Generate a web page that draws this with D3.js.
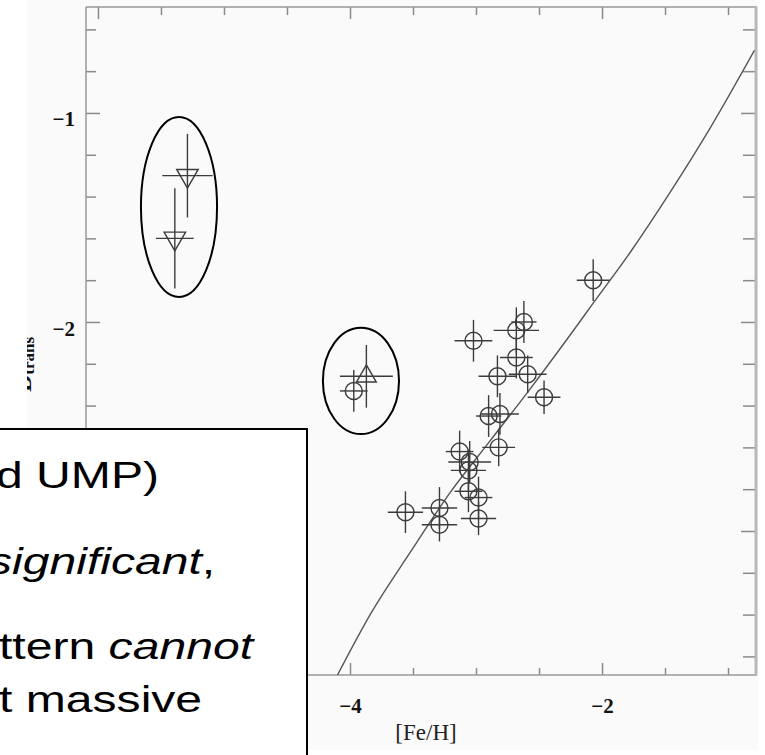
<!DOCTYPE html>
<html>
<head>
<meta charset="utf-8">
<script src="https://cdn.jsdelivr.net/npm/d3@7/dist/d3.min.js"></script>
<style>
  html, body { margin: 0; padding: 0; background: #fff; }
  svg { display: block; }
</style>
</head>
<body>
<svg id="chart" width="765" height="755"></svg>
<script>
// D_trans vs [Fe/H] — stars with error bars, model curve, two circled outlier groups,
// partly covered by a slide text box
// ------------------------------------------------------------------

// Data: circles -----------------------------------------------------
const circFeH  = [-2.07, -2.62, -2.68, -3.02, -2.68, -2.83, -2.59, -2.46, -2.90, -2.81, -2.82,
                  -3.13, -3.05, -3.06, -3.06, -2.98, -2.98, -3.56, -3.29, -3.29, -3.97];
const circD    = [-1.80, -2.00, -2.04, -2.09, -2.17, -2.26, -2.25, -2.36, -2.45, -2.44, -2.60,
                  -2.62, -2.67, -2.71, -2.81, -2.84, -2.94, -2.91, -2.89, -2.97, -2.33];
const circFeErr = [0.13, 0.10, 0.18, 0.15, 0.13, 0.15, 0.15, 0.13, 0.10, 0.15, 0.13,
                   0.11, 0.17, 0.14, 0.11, 0.11, 0.14, 0.14, 0.14, 0.14, 0.11];
const circDErr  = [0.10, 0.10, 0.11, 0.10, 0.10, 0.10, 0.09, 0.08, 0.10, 0.10, 0.09,
                   0.10, 0.10, 0.10, 0.10, 0.10, 0.08, 0.10, 0.10, 0.08, 0.10];

// Data: down triangles ----------------------------------------------
const downFeH   = [-5.29, -5.39];
const downD     = [-1.30, -1.60];
const downFeErr = [0.20, 0.15];
const downDErr  = [0.20, 0.24];

// Data: up triangle ------------------------------------------------
const upFeH   = [-3.87];
const upD     = [-2.26];
const upFeErr = [0.21];
const upDErr  = [0.15];

// Model curve ------------------------------------------------------
const curveFeH = [-4.10, -3.84, -3.52, -3.21, -2.89, -2.57, -2.25, -2.07, -1.78, -1.46, -1.14, -0.79];
const curveD   = [-3.69, -3.40, -3.10, -2.82, -2.57, -2.32, -2.06, -1.91, -1.67, -1.38, -1.07, -0.70];

// Circled groups (data units) --------------------------------------
const ringFeH = [-5.357, -3.913];
const ringD   = [-1.45, -2.282];
const ringRFe = [0.302, 0.302];
const ringRD  = [0.431, 0.254];

// Axes -------------------------------------------------------------
const xDomain = [-6.095, -0.786];
const yDomain = [-3.689, -0.493];
const xMajor  = [-6, -4, -2];
const yMajor  = [-3, -2, -1];
const xTickLabels = [-4, -2];        // the others sit under the text box
const yTickLabels = [-2, -1];
const xMinor  = d3.range(-6, -0.79, 0.5);
const yMinor  = d3.range(-3.6, -0.5, 0.2);
const xLabel  = "[Fe/H]";
const yLabelMain = "D", yLabelSub = "trans";

// Slide text (visible part) ----------------------------------------
const boxLines = [
  [{ t: "d UMP)" }],
  [{ t: "significant", i: true }, { t: "," }],
  [{ t: "ttern " }, { t: "cannot", i: true }],
  [{ t: "t massive" }]
];

// Layout -----------------------------------------------------------
const frame = { left: 86, right: 755, top: 7, bottom: 675 };
const svg = d3.select("#chart");

const x = d3.scaleLinear().domain(xDomain).range([frame.left, frame.right]);
const y = d3.scaleLinear().domain(yDomain).range([frame.bottom, frame.top]);

// figure image area (off-white), clipped
const defs = svg.append("defs");
defs.append("clipPath").attr("id", "figclip")
  .append("rect").attr("x", 27).attr("y", 0).attr("width", 731).attr("height", 750);
defs.append("clipPath").attr("id", "plotclip")
  .append("rect").attr("x", frame.left).attr("y", frame.top)
  .attr("width", frame.right - frame.left).attr("height", frame.bottom - frame.top);

const fig = svg.append("g").attr("clip-path", "url(#figclip)");
fig.append("rect").attr("x", 27).attr("y", 0).attr("width", 731).attr("height", 750)
  .attr("fill", "#fafafa");

// Axes -------------------------------------------------------------
const tickCol = "#8a8a8a";
const fontSerif = "'Liberation Serif', 'DejaVu Serif', serif";

function styleAxis(g) {
  g.select(".domain").remove();
  g.selectAll("line").attr("stroke", tickCol).attr("stroke-width", 1.5);
  g.selectAll("text").attr("fill", "#111").attr("font-family", fontSerif)
    .attr("font-weight", "bold").attr("font-size", 21);
}

const minorX = xMinor.filter(v => !xMajor.includes(v));
const minorY = yMinor.filter(v => !yMajor.some(t => Math.abs(t - v) < 1e-6));

// bottom
fig.append("g").attr("transform", `translate(0,${frame.bottom})`)
  .call(d3.axisBottom(x).tickValues(minorX).tickSize(-7).tickFormat(""))
  .call(styleAxis);
fig.append("g").attr("transform", `translate(0,${frame.bottom})`)
  .call(d3.axisBottom(x).tickValues(xMajor).tickSize(-12).tickFormat(""))
  .call(styleAxis);
fig.append("g").attr("transform", `translate(0,${frame.bottom})`)
  .call(d3.axisBottom(x).tickValues(xTickLabels).tickSize(0).tickPadding(23).tickFormat(d3.format("d")))
  .call(styleAxis);
// top
fig.append("g").attr("transform", `translate(0,${frame.top})`)
  .call(d3.axisTop(x).tickValues(minorX).tickSize(-8).tickFormat(""))
  .call(styleAxis);
fig.append("g").attr("transform", `translate(0,${frame.top})`)
  .call(d3.axisTop(x).tickValues(xMajor).tickSize(-12).tickFormat(""))
  .call(styleAxis);
// left
fig.append("g").attr("transform", `translate(${frame.left},0)`)
  .call(d3.axisLeft(y).tickValues(minorY).tickSize(-10).tickFormat(""))
  .call(styleAxis);
fig.append("g").attr("transform", `translate(${frame.left},0)`)
  .call(d3.axisLeft(y).tickValues(yMajor).tickSize(-14).tickFormat(""))
  .call(styleAxis);
const yLab = fig.append("g").attr("transform", `translate(${frame.left},0)`)
  .call(d3.axisLeft(y).tickValues(yTickLabels).tickSize(0).tickPadding(11).tickFormat(d3.format("d")))
  .call(styleAxis);
yLab.selectAll("text").attr("dy", "0.62em");
// right
fig.append("g").attr("transform", `translate(${frame.right},0)`)
  .call(d3.axisRight(y).tickValues(minorY).tickSize(-12).tickFormat(""))
  .call(styleAxis);
fig.append("g").attr("transform", `translate(${frame.right},0)`)
  .call(d3.axisRight(y).tickValues(yMajor).tickSize(-14).tickFormat(""))
  .call(styleAxis);

// frame lines
const frameG = fig.append("g").attr("stroke", "#999").attr("stroke-width", 1.5);
frameG.append("line").attr("x1", frame.left).attr("x2", frame.right + 2)
  .attr("y1", frame.top).attr("y2", frame.top);
frameG.append("line").attr("x1", frame.left).attr("x2", frame.right + 2)
  .attr("y1", frame.bottom).attr("y2", frame.bottom);
frameG.append("line").attr("x1", frame.left).attr("x2", frame.left)
  .attr("y1", frame.top).attr("y2", frame.bottom);
fig.append("line").attr("x1", frame.right + 1).attr("x2", frame.right + 1)
  .attr("y1", frame.top).attr("y2", frame.bottom).attr("stroke", "#b8b8b8").attr("stroke-width", 3);

// axis titles
fig.append("text")
  .attr("x", 426).attr("y", 740)
  .attr("text-anchor", "middle")
  .attr("font-family", fontSerif).attr("font-size", 23).attr("fill", "#222")
  .text(xLabel);

const yl = fig.append("text")
  .attr("transform", "translate(31,392) rotate(-90)")
  .attr("font-family", fontSerif).attr("font-weight", "bold").attr("font-size", 24).attr("fill", "#111");
yl.append("tspan").text(yLabelMain);
yl.append("tspan").attr("font-size", 17).attr("dy", 3).text(yLabelSub);

// Plot contents ----------------------------------------------------
const pg = fig.append("g").attr("clip-path", "url(#plotclip)");
const markCol = "#3c3c3c";

// model curve
const curvePts = curveFeH.map((v, i) => [v, curveD[i]]);
pg.append("path")
  .datum(curvePts)
  .attr("fill", "none").attr("stroke", "#555").attr("stroke-width", 1.4)
  .attr("d", d3.line().x(d => x(d[0])).y(d => y(d[1])).curve(d3.curveMonotoneX));

function rows(fe, d, fe_e, d_e) {
  return fe.map((v, i) => ({ fe: v, d: d[i], fe_e: fe_e[i], d_e: d_e[i] }));
}
const circles = rows(circFeH, circD, circFeErr, circDErr);
const downs   = rows(downFeH, downD, downFeErr, downDErr);
const ups     = rows(upFeH, upD, upFeErr, upDErr);
const allPts  = circles.concat(downs, ups);

// error bars
const eb = pg.append("g").attr("stroke", markCol).attr("stroke-width", 1.4);
eb.selectAll("line.ex").data(allPts).join("line").attr("class", "ex")
  .attr("x1", d => x(d.fe - d.fe_e)).attr("x2", d => x(d.fe + d.fe_e))
  .attr("y1", d => y(d.d)).attr("y2", d => y(d.d));
eb.selectAll("line.ey").data(allPts).join("line").attr("class", "ey")
  .attr("x1", d => x(d.fe)).attr("x2", d => x(d.fe))
  .attr("y1", d => y(d.d - d.d_e)).attr("y2", d => y(d.d + d.d_e));

// circles
pg.append("g").selectAll("circle").data(circles).join("circle")
  .attr("cx", d => x(d.fe)).attr("cy", d => y(d.d)).attr("r", 8.5)
  .attr("fill", "none").attr("stroke", markCol).attr("stroke-width", 1.4);

// triangles
pg.append("g").selectAll("path").data(downs).join("path")
  .attr("d", d3.symbol(d3.symbolTriangle, 200))
  .attr("transform", d => `translate(${x(d.fe)},${y(d.d)}) rotate(180)`)
  .attr("fill", "none").attr("stroke", markCol).attr("stroke-width", 1.4);
pg.append("g").selectAll("path").data(ups).join("path")
  .attr("d", d3.symbol(d3.symbolTriangle, 170))
  .attr("transform", d => `translate(${x(d.fe)},${y(d.d)})`)
  .attr("fill", "none").attr("stroke", markCol).attr("stroke-width", 1.4);

// circled groups
fig.append("g").selectAll("ellipse").data(ringFeH.map((v, i) => i)).join("ellipse")
  .attr("cx", i => x(ringFeH[i])).attr("cy", i => y(ringD[i]))
  .attr("rx", i => x(ringFeH[i] + ringRFe[i]) - x(ringFeH[i]))
  .attr("ry", i => y(ringD[i] - ringRD[i]) - y(ringD[i]))
  .attr("fill", "none").attr("stroke", "#000").attr("stroke-width", 2);

// Slide text box ---------------------------------------------------
svg.append("rect")
  .attr("x", -5).attr("y", 429).attr("width", 312).attr("height", 340)
  .attr("fill", "#fff").attr("stroke", "#000").attr("stroke-width", 2);

const stretch = 1.3;
const lineX  = [-4, -12, -1, -1];
const lineY  = [488, 574, 659, 712];
const tg = svg.append("g").attr("transform", `scale(${stretch},1)`)
  .attr("font-family", "'Liberation Sans', Arial, sans-serif").attr("font-size", 37).attr("fill", "#000");
boxLines.forEach((segs, li) => {
  const t = tg.append("text").attr("x", lineX[li] / stretch).attr("y", lineY[li]);
  segs.forEach(s => t.append("tspan").attr("font-style", s.i ? "italic" : "normal").text(s.t));
});
</script>
</body>
</html>
